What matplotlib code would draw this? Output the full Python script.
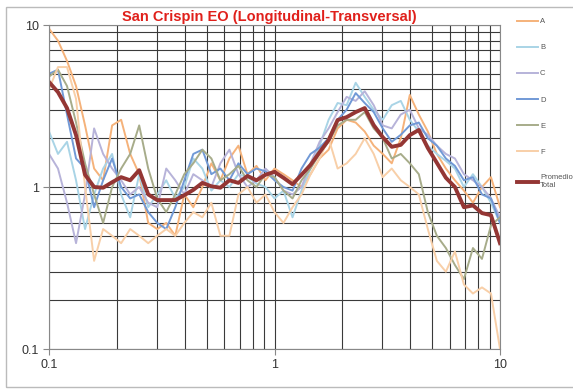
import matplotlib
matplotlib.use("Agg")
import matplotlib.pyplot as plt
from matplotlib.ticker import FuncFormatter, NullFormatter
from matplotlib.patches import Rectangle

plt.rcParams["font.family"] = ["Liberation Sans", "DejaVu Sans"]

freq = [0.1, 0.1096, 0.1202, 0.1318, 0.1445, 0.1585, 0.1738, 0.1905, 0.2089, 0.2291,
        0.2512, 0.2754, 0.302, 0.3311, 0.3631, 0.3981, 0.4365, 0.4786, 0.5248, 0.5754,
        0.631, 0.6918, 0.7586, 0.8318, 0.912, 1.0, 1.096, 1.202, 1.318, 1.445,
        1.585, 1.738, 1.905, 2.089, 2.291, 2.512, 2.754, 3.02, 3.311, 3.631,
        3.981, 4.365, 4.786, 5.248, 5.754, 6.31, 6.918, 7.586, 8.318, 9.12, 10.0]

A = [9.5, 8.0, 6.0, 4.2, 2.4, 1.3, 1.1, 2.4, 2.6, 1.6,
     1.2, 0.6, 0.55, 0.6, 0.5, 0.9, 0.75, 1.0, 1.4, 1.1,
     1.5, 1.8, 1.2, 1.35, 1.1, 1.3, 1.2, 1.1, 1.0, 1.2,
     1.5, 1.7, 2.3, 2.6, 2.5, 2.2, 1.8, 1.6, 1.4, 2.0,
     3.7, 2.8, 2.2, 1.6, 1.3, 1.1, 0.95, 0.8, 1.0, 1.15, 0.75]
B = [2.2, 1.6, 1.9, 1.1, 0.55, 0.9, 1.3, 1.6, 0.9, 0.65,
     1.2, 0.75, 0.9, 1.1, 0.85, 1.0, 1.5, 1.3, 0.95, 1.1,
     1.0, 1.2, 1.15, 1.05, 1.0, 0.85, 0.95, 0.65, 0.95, 1.3,
     1.8, 2.6, 3.3, 3.2, 4.4, 3.6, 3.0, 2.6, 3.2, 3.4,
     2.6, 2.2, 1.8, 1.6, 1.45, 1.3, 1.0, 1.2, 1.0, 0.8, 0.6]
C = [1.6, 1.3, 0.8, 0.45, 0.9, 2.3, 1.6, 1.3, 1.1, 0.9,
     1.0, 0.8, 0.75, 1.3, 1.1, 0.9, 1.2, 1.1, 1.0, 1.4,
     1.7, 1.2, 1.0, 1.1, 1.3, 1.15, 0.95, 0.9, 1.0, 1.4,
     1.9, 2.3, 2.9, 3.6, 3.4, 3.9, 3.2, 2.4, 2.3, 2.8,
     3.0, 2.3, 2.1, 1.8, 1.6, 1.5, 1.2, 1.1, 1.0, 0.85, 0.65]
D = [5.0, 5.3, 2.8, 1.5, 1.3, 0.75, 1.1, 1.5, 1.0, 0.85,
     0.9, 0.7, 0.6, 0.55, 0.75, 1.1, 1.6, 1.7, 1.2, 1.3,
     1.1, 1.4, 1.2, 1.3, 1.25, 1.1, 1.0, 0.95, 1.3, 1.6,
     1.75, 2.0, 2.6, 3.0, 3.8, 3.3, 2.9, 2.3, 1.9, 2.1,
     2.4, 2.5, 2.0, 1.8, 1.5, 1.35, 1.1, 1.15, 0.9, 0.85, 0.6]
E = [4.8, 5.3, 4.2, 2.5, 1.4, 0.9, 0.6, 1.0, 1.3, 1.6,
     2.4, 1.3, 0.85, 0.7, 0.9, 1.2, 1.4, 1.7, 1.5, 1.1,
     1.2, 1.35, 1.1, 1.0, 1.2, 1.15, 0.95, 0.85, 1.1, 1.3,
     1.6, 1.9, 2.4, 2.6, 2.6, 2.9, 2.3, 2.0, 1.5, 1.6,
     1.4, 1.2, 0.7, 0.5, 0.42, 0.33, 0.27, 0.42, 0.36, 0.58, 0.65]
F = [4.0, 5.5, 5.5, 3.5, 1.0, 0.35, 0.55, 0.5, 0.45, 0.55,
     0.5, 0.45, 0.5, 0.55, 0.5, 0.6, 0.7, 0.65, 0.8, 0.5,
     0.5, 0.9, 1.0, 0.8, 0.9, 0.7, 0.6, 0.75, 0.9, 1.2,
     1.5, 2.0, 1.3, 1.4, 1.6, 2.0, 1.6, 1.15, 1.3, 1.1,
     1.0, 0.9, 0.55, 0.35, 0.3, 0.4, 0.25, 0.22, 0.24, 0.22, 0.1]
promedio = [4.45, 3.85, 3.07, 2.09, 1.19, 1.0, 0.99, 1.07, 1.15, 1.1,
            1.27, 0.9, 0.83, 0.83, 0.83, 0.89, 0.96, 1.06, 1.01, 0.99,
            1.1, 1.06, 1.17, 1.1, 1.19, 1.24, 1.14, 1.04, 1.19, 1.37,
            1.64, 1.95, 2.59, 2.7, 2.9, 3.07, 2.41, 2.03, 1.77, 1.82,
            2.09, 2.25, 1.74, 1.41, 1.14, 1.0, 0.75, 0.77, 0.69, 0.67, 0.45]

series = {"A": A, "B": B, "C": C, "D": D, "E": E, "F": F}
colors = {"A": "#F5B27A", "B": "#A9D4E6", "C": "#B7B3D9",
          "D": "#7199D6", "E": "#A7AC8A", "F": "#F8CFA8"}

fig = plt.figure(figsize=(5.73, 3.92), dpi=100)
ax = fig.add_axes([49 / 573, 1 - 349 / 392, 451 / 573, 324 / 392])

for name, vals in series.items():
    ax.plot(freq, vals, color=colors[name], lw=1.4, label=name)
ax.plot(freq, promedio, color="#943634", lw=2.8, label="Promedio\nTotal")

ax.set_xscale("log")
ax.set_yscale("log")
ax.set_xlim(0.1, 10)
ax.set_ylim(0.1, 10)

fmt = FuncFormatter(lambda v, p: f"{v:g}")
ax.xaxis.set_major_formatter(fmt)
ax.yaxis.set_major_formatter(fmt)
ax.xaxis.set_minor_formatter(NullFormatter())
ax.yaxis.set_minor_formatter(NullFormatter())
ax.tick_params(which="major", length=4, color="#888888", labelsize=9, labelcolor="#333333")
ax.tick_params(which="minor", length=0)
ax.grid(True, which="both", color="#3a3a3a", lw=0.8)
for s in ax.spines.values():
    s.set_color("#888888")

fig.text(269 / 573, 1 - 17 / 392, "San Crispin EO (Longitudinal-Transversal)",
         color="#E0201B", fontsize=10.5, fontweight="bold", ha="center", va="center")

leg = fig.legend(loc="upper left", bbox_to_anchor=(517 / 573, 1 - 18 / 392), frameon=False,
                 fontsize=5.5, labelspacing=2.45, handlelength=2.8, handletextpad=0.2,
                 borderpad=0, borderaxespad=0)
for t in leg.get_texts():
    t.set_color("#555555")

fig.patches.append(Rectangle((6 / 573, 5 / 392), 570 / 573, 380 / 392,
                             transform=fig.transFigure, fill=False,
                             edgecolor="#bbbbbb", lw=1))

fig.savefig("out.png", dpi=100)
